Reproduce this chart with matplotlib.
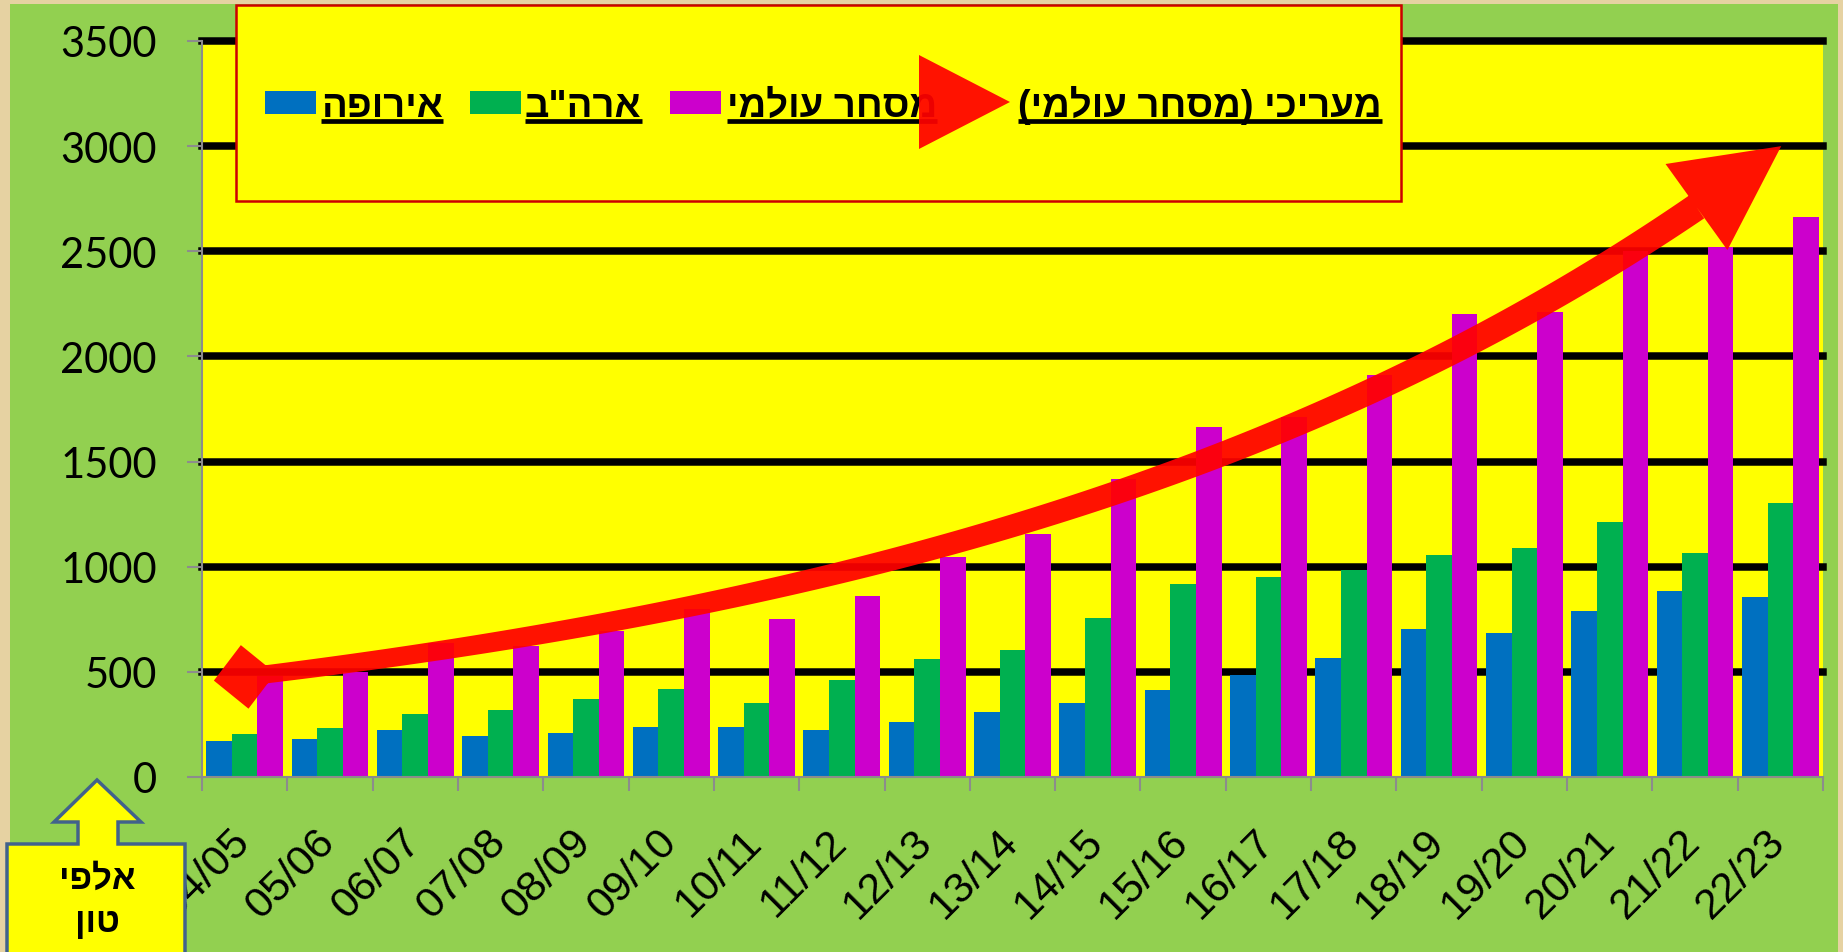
import numpy as np
import matplotlib
matplotlib.use('Agg')
import matplotlib.pyplot as plt
from matplotlib.patches import Polygon, Rectangle, PathPatch
from matplotlib.path import Path
from matplotlib.transforms import ScaledTranslation

seasons = ['04/05', '05/06', '06/07', '07/08', '08/09', '09/10', '10/11', '11/12',
           '12/13', '13/14', '14/15', '15/16', '16/17', '17/18', '18/19', '19/20',
           '20/21', '21/22', '22/23']
europe = [171, 181, 224, 194, 210, 236, 238, 224, 263, 308, 353, 414, 487, 568,
          706, 684, 789, 885, 856]
usa = [205, 232, 300, 319, 371, 419, 351, 462, 560, 605, 756, 918, 952, 984,
       1058, 1090, 1215, 1065, 1303]
world = [482, 500, 638, 624, 692, 801, 751, 863, 1047, 1154, 1417, 1663, 1712,
         1912, 2202, 2210, 2500, 2520, 2664]

legend_names = ['אירופה', 'ארה"ב', 'מסחר עולמי', 'מעריכי (מסחר עולמי)']
unit_label = ['אלפי', 'טון']

# hand drawn trend arrow, (category index, value) at both ends
trend_start = (0.0, 476)
trend_end = (18.01, 3000)

W, H = 1843, 953
BLUE, GREEN, MAGENTA = '#0070C0', '#00B050', '#CC00CC'
YELLOW = '#FFFF00'
BG_GREEN = '#92D050'
RED = '#FF0000'
GRAY = '#8C8C8C'
heb_font = ['Liberation Sans', 'DejaVu Sans']


def rtl(s):
    # matplotlib has no bidi, so flip hebrew into visual order
    return s[::-1].translate(str.maketrans('()', ')('))


fig = plt.figure(figsize=(W / 100, H / 100), dpi=100)
fig.patch.set_facecolor('#E6D2A2')
fig.add_artist(Rectangle((10 / W, 0), (1838 - 10) / W, (H - 5) / H,
                         transform=fig.transFigure, facecolor=BG_GREEN,
                         edgecolor='none', zorder=-10))

ax = fig.add_axes([202 / W, (H - 778) / H, (1823 - 202) / W, (778 - 42) / H])
ax.set_facecolor(YELLOW)
x = np.arange(len(seasons))
w = 0.3
ax.bar(x - w, europe, w, color=BLUE, zorder=2)
ax.bar(x, usa, w, color=GREEN, zorder=2)
ax.bar(x + w, world, w, color=MAGENTA, zorder=2)
ax.set_xlim(-0.5, len(seasons) - 0.5)
ax.set_ylim(0, 3500)
ax.set_yticks(np.arange(0, 3501, 500))
for v in range(500, 3501, 500):
    ax.axhline(v, color='black', lw=5.4, zorder=1, clip_on=False)

for s in ['top', 'right']:
    ax.spines[s].set_visible(False)
for s in ['left', 'bottom']:
    ax.spines[s].set_color(GRAY)
    ax.spines[s].set_linewidth(1.5)

ax.tick_params(axis='y', length=10.5, width=1.5, color=GRAY, pad=22, labelsize=30)
for lab in ax.get_yticklabels():
    lab.set_family('Lato')
ax.set_xticks(x)
ax.set_xticks(np.arange(-0.5, len(seasons), 1), minor=True)
ax.tick_params(axis='x', which='minor', length=10, width=1.5, color=GRAY)
ax.tick_params(axis='x', which='major', length=0, pad=47.5)
ax.set_xticklabels(seasons, rotation=45, ha='right', va='baseline',
                   rotation_mode='anchor', fontsize=31, family='Liberation Sans')
shift = ScaledTranslation(0.07, 0, fig.dpi_scale_trans)
for lab in ax.get_xticklabels():
    lab.set_transform(lab.get_transform() + shift)

# overlay in pixel coords, y going down
ov = fig.add_axes([0, 0, 1, 1])
ov.set_xlim(0, W)
ov.set_ylim(H, 0)
ov.axis('off')
ov.patch.set_alpha(0)
ov.set_zorder(5)

# legend box
ov.add_patch(Rectangle((236, 6), 1401 - 236, 202 - 6, facecolor=YELLOW,
                       edgecolor='#CC0000', lw=1.8, zorder=1))
key_x = [265, 470, 670]
text_x = [321, 525, 727, 1018]
for kx, c in zip(key_x, [BLUE, GREEN, MAGENTA]):
    ov.add_patch(Rectangle((kx, 92), 51, 23, facecolor=c, edgecolor='none', zorder=2))
texts = []
for tx, name in zip(text_x, legend_names):
    t = ov.text(tx, 117, rtl(name), fontsize=27.5, fontweight='bold', family=heb_font,
                ha='left', va='baseline', color='black', zorder=2)
    texts.append(t)
fig.canvas.draw()
for t in texts:
    bb = t.get_window_extent()
    ov.plot([bb.x0, bb.x1], [122, 122], color='black', lw=3.4,
            solid_capstyle='butt', zorder=2)

ov.add_patch(Polygon([(919, 56), (919, 150), (1010, 103)], closed=True,
                     facecolor=RED, edgecolor='none', alpha=0.93, zorder=3))

# trend arrow: tapered band, diamond at the tail, triangle at the head
xs = np.linspace(trend_start[0], trend_end[0], 400)
b = np.log(trend_end[1] / trend_start[1]) / (trend_end[0] - trend_start[0])
ys = trend_start[1] * np.exp(b * (xs - trend_start[0]))
pts = ax.transData.transform(np.column_stack([xs, ys]))
pts[:, 1] = H - pts[:, 1]
seg_len = np.r_[0, np.cumsum(np.hypot(*np.diff(pts, axis=0).T))]
total = seg_len[-1]
tang = np.gradient(pts, axis=0)
tang /= np.hypot(tang[:, 0], tang[:, 1])[:, None]
nrm = np.column_stack([-tang[:, 1], tang[:, 0]])

head_len, head_half = 107, 53
jb = np.searchsorted(seg_len, total - head_len + 4)
half_w = (18 + 10 * seg_len / total) / 2
band = np.vstack([pts[:jb] + nrm[:jb] * half_w[:jb, None],
                  (pts[:jb] - nrm[:jb] * half_w[:jb, None])[::-1]])

tip = pts[-1]
base = pts[np.searchsorted(seg_len, total - head_len)]
u = (tip - base) / np.hypot(*(tip - base))
n = np.array([-u[1], u[0]])
tri = np.array([tip, base + n * head_half, base - n * head_half])

c0 = pts[0]
u0 = tang[0]
n0 = nrm[0]
diamond = np.array([c0 - u0 * 31, c0 + n0 * 32, c0 + u0 * 31, c0 - n0 * 32])


def ccw(poly):
    a = np.sum(poly[:, 0] * np.roll(poly[:, 1], -1) - np.roll(poly[:, 0], -1) * poly[:, 1])
    return poly if a > 0 else poly[::-1]


verts, codes = [], []
for poly in [band, tri, diamond]:
    poly = ccw(poly)
    verts += list(poly) + [poly[0]]
    codes += [Path.MOVETO] + [Path.LINETO] * (len(poly) - 1) + [Path.CLOSEPOLY]
ov.add_patch(PathPatch(Path(verts, codes), facecolor=RED, edgecolor='none',
                       alpha=0.93, zorder=3))

# unit callout
callout = [(7, H + 5), (7, 845), (78, 845), (78, 823), (54, 823), (97, 781),
           (141, 823), (118, 823), (118, 845), (185, 845), (185, H + 5)]
ov.add_patch(Polygon(callout, closed=True, facecolor=YELLOW, edgecolor='#41628C',
                     lw=2.5, zorder=4, clip_on=False))
ov.text(97, 889, rtl(unit_label[0]), fontsize=25, fontweight='bold', family=heb_font,
        ha='center', va='baseline', zorder=5)
ov.text(97, 932, rtl(unit_label[1]), fontsize=25, fontweight='bold', family=heb_font,
        ha='center', va='baseline', zorder=5)

fig.savefig('out.png', dpi=100, facecolor=fig.get_facecolor())
